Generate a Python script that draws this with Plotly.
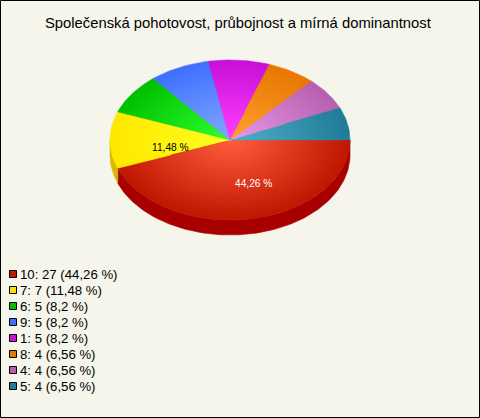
import math
import plotly.graph_objects as go

TITLE = "Společenská pohotovost, průbojnost a mírná dominantnost"
labels = ["10", "7", "6", "9", "1", "8", "4", "5"]
counts = [27, 7, 5, 5, 5, 4, 4, 4]
edge_colors = [(192, 24, 0), (255, 232, 0), (0, 192, 0), (64, 112, 255),
               (200, 16, 216), (232, 120, 0), (184, 96, 176), (32, 124, 152)]
core_colors = [(255, 92, 60), (255, 255, 32), (48, 255, 48), (128, 168, 255),
               (255, 64, 255), (255, 160, 48), (232, 152, 232), (80, 176, 200)]
legend_colors = [(192, 24, 0), (255, 224, 0), (0, 192, 0), (64, 112, 255),
                 (200, 16, 216), (232, 120, 0), (184, 96, 176), (32, 124, 152)]
wall_colors = {0: "#a80000", 1: "#d8b800"}
label_slices = {0: ("white", 13, 4), 1: ("black", 0, 7)}

CX, CY, RX, RY, DEPTH = 230, 140, 120, 80, 15
BANDS = 40
BG = "#f5f5ec"

total = sum(counts)
pct = [round(100 * c / total, 2) for c in counts]


def fmt(p):
    return f"{p:g}".replace(".", ",")


def arc(a0, a1, scale=1.0, dy=0.0):
    n = max(2, int(abs(a1 - a0) * 60))
    pts = [a0 + (a1 - a0) * i / n for i in range(n + 1)]
    return ([CX + scale * RX * math.cos(t) for t in pts],
            [CY + dy + scale * RY * math.sin(t) for t in pts])


fig = go.Figure()


def poly(xs, ys, color):
    fig.add_trace(go.Scatter(x=xs, y=ys, mode="lines", fill="toself", fillcolor=color,
                             line=dict(color=color, width=0.6), hoverinfo="skip",
                             showlegend=False))


angles = [0.0]
for c in counts:
    angles.append(angles[-1] + 2 * math.pi * c / total)

# side wall (front half only)
for i, col in wall_colors.items():
    a0, a1 = angles[i], min(angles[i + 1], math.pi)
    x1, y1 = arc(a0, a1)
    x2, y2 = arc(a1, a0, dy=DEPTH)
    poly(x1 + x2 + x1[:1], y1 + y2 + y1[:1], col)

# top face: nested bands form the radial shading of each slice
for b in range(BANDS):
    f = b / (BANDS - 1)
    scale = 1 - b / BANDS
    for i in range(len(counts)):
        e, k = edge_colors[i], core_colors[i]
        col = "rgb(%d,%d,%d)" % tuple(round(e[j] + (k[j] - e[j]) * f) for j in range(3))
        xs, ys = arc(angles[i], angles[i + 1], scale)
        poly([CX] + xs + [CX], [CY] + ys + [CY], col)

annots = []
for i, (col, ox, oy) in label_slices.items():
    mid = (angles[i] + angles[i + 1]) / 2
    annots.append(dict(x=CX + 0.5 * RX * math.cos(mid) + ox, y=CY + 0.5 * RY * math.sin(mid) + oy,
                       text=f"{fmt(pct[i])} %", showarrow=False,
                       font=dict(family="Liberation Sans", size=10.2, color=col)))

# legend
LEG_X, LEG_Y, LEG_STEP = 13, 274, 16
fig.add_trace(go.Scatter(
    x=[LEG_X] * len(labels), y=[LEG_Y + LEG_STEP * i for i in range(len(labels))],
    mode="markers", hoverinfo="skip", showlegend=False,
    marker=dict(symbol="square", size=7,
                color=["rgb(%d,%d,%d)" % c for c in legend_colors],
                line=dict(color="black", width=1))))
for i, lab in enumerate(labels):
    annots.append(dict(x=20, y=LEG_Y + LEG_STEP * i, xanchor="left", yanchor="middle",
                       text=f"{lab}: {counts[i]} ({fmt(pct[i])} %)", showarrow=False,
                       xshift=-2,
                       font=dict(family="Liberation Sans", size=13.2, color="black")))

annots.append(dict(x=238, y=23, text=TITLE, showarrow=False,
                   font=dict(family="Liberation Sans", size=14.8, color="black")))

fig.update_layout(
    width=480, height=418, margin=dict(l=0, r=0, t=0, b=0),
    paper_bgcolor=BG, plot_bgcolor=BG, showlegend=False,
    xaxis=dict(visible=False, range=[0, 480], fixedrange=True),
    yaxis=dict(visible=False, range=[418, 0], fixedrange=True),
    annotations=annots,
    shapes=[dict(type="rect", xref="x", yref="y", x0=0.5, y0=0.5, x1=479.5, y1=417.5,
                 line=dict(color="black", width=1))],
)
fig.write_html("out.html", config={"displayModeBar": False},
               post_script="document.body.style.margin='0';document.body.style.overflow='hidden';")
